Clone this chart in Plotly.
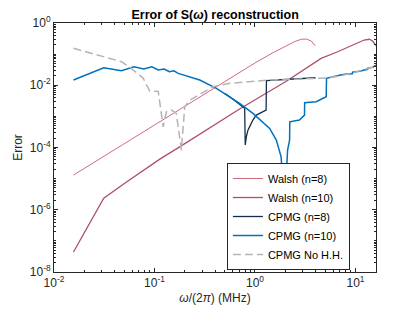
import plotly.graph_objects as go

# ---- data (frequency in MHz, error) ----
walsh8_f = [0.015625, 0.05, 0.1, 0.2, 0.5, 1.0, 1.5, 1.97, 2.47, 2.88, 3.23, 3.63, 3.97]
walsh8_e = [1.3e-5, 1.33e-4, 5.3e-4, 2.1e-3, 1.3e-2, 0.052, 0.11, 0.173, 0.25, 0.30, 0.306, 0.264, 0.186]

walsh10_f = [0.015625, 0.03125, 0.0531, 0.113, 0.178, 0.703, 2.05, 4.55, 6.65, 9.03, 12.2, 13.7, 14.8, 16.0]
walsh10_e = [4.4e-8, 2.36e-6, 7.9e-6, 4.24e-5, 1.05e-4, 1.72e-3, 0.0134, 0.073, 0.119, 0.186, 0.284, 0.30, 0.264, 0.186]

cpmg8_f = [0.499, 0.56, 0.789, 0.80, 0.82, 0.851, 0.883, 0.953, 1.03, 1.155, 1.29, 1.30, 2.0, 3.0, 4.0]
cpmg8_e = [5.5e-3, 4.27e-3, 1.81e-3, 1.2e-4, 2.2e-4, 3.6e-4, 4.6e-4, 7.6e-4, 1.1e-3, 1.37e-3, 1.6e-3, 0.014, 0.0152, 0.0165, 0.0174]

cpmg10_f = [0.015625, 0.03125, 0.0469, 0.0625, 0.078, 0.094, 0.109, 0.125, 0.1406, 0.156, 0.172,
            0.282, 0.413, 0.56, 0.703, 0.953, 1.40, 1.63, 1.82, 1.97, 2.05, 2.11, 2.21, 2.22,
            2.77, 3.11, 3.12, 4.06, 5.11, 5.15, 6.92, 8.07, 9.3, 9.35, 10.9, 13.2, 13.25, 14.8, 16.0]
cpmg10_e = [0.0147, 0.0366, 0.0292, 0.0394, 0.0332, 0.0394, 0.0308, 0.0332, 0.0272, 0.029, 0.0241,
            0.0147, 0.0079, 0.00427, 0.00262, 0.00125, 4.1e-4, 1.73e-4, 5.0e-5, 1.0e-6, 2.4e-5, 8.2e-5, 1.73e-4, 6.7e-4,
            7.6e-4, 1.1e-3, 2.74e-3, 2.95e-3, 4.27e-3, 0.0167, 0.0208, 0.0229, 0.0235, 0.0262, 0.028, 0.0325, 0.0357, 0.0375, 0.0447]

nohh_f = [0.015625, 0.047, 0.0582, 0.077, 0.0897, 0.109, 0.122, 0.1315, 0.1476, 0.165, 0.185, 0.2,
          0.224, 0.293, 0.382, 0.56, 1.40, 5.11, 6.92, 9.3, 12.5, 15.9]
nohh_e = [0.154, 0.057, 0.0357, 0.017, 0.0065, 0.0063, 4.6e-4, 1.4e-3, 1.6e-3, 1.25e-3, 8.2e-5, 2.04e-3,
          3.3e-3, 5.5e-3, 8.95e-3, 0.0115, 0.0147, 0.017, 0.0198, 0.0247, 0.032, 0.0414]

names = ["Walsh (n=8)", "Walsh (n=10)", "CPMG (n=8)", "CPMG (n=10)", "CPMG No H.H."]

x_ticks = [0.01, 0.1, 1, 10]
x_labels = ["10<sup>-2</sup>", "10<sup>-1</sup>", "10<sup>0</sup>", "10<sup>1</sup>"]
y_ticks = [1e-8, 1e-6, 1e-4, 1e-2, 1]
y_labels = ["10<sup>-8</sup>", "10<sup>-6</sup>", "10<sup>-4</sup>", "10<sup>-2</sup>", "10<sup>0</sup>"]

x_minor = [m * 10 ** d for d in range(-2, 2) for m in range(2, 10) if m * 10 ** d <= 16]
y_minor = [m * 10 ** d for d in range(-8, 0) for m in range(1, 10)]

fig = go.Figure()
fig.add_trace(go.Scatter(x=walsh8_f, y=walsh8_e, name=names[0], mode="lines",
                         line=dict(color="#cf6a83", width=1)))
fig.add_trace(go.Scatter(x=walsh10_f, y=walsh10_e, name=names[1], mode="lines",
                         line=dict(color="#b04e6b", width=1.3)))
fig.add_trace(go.Scatter(x=cpmg8_f, y=cpmg8_e, name=names[2], mode="lines",
                         line=dict(color="#132d48", width=1.3)))
fig.add_trace(go.Scatter(x=cpmg10_f, y=cpmg10_e, name=names[3], mode="lines",
                         line=dict(color="#0072BD", width=1.5)))
fig.add_trace(go.Scatter(x=nohh_f, y=nohh_e, name=names[4], mode="lines",
                         line=dict(color="#b4b4b4", width=1.5, dash="8px,4px")))

axis_common = dict(type="log", showgrid=False, zeroline=False, showline=True,
                   linecolor="#262626", linewidth=1, mirror="allticks",
                   ticks="inside", ticklen=4, tickcolor="#262626", automargin=False,
                   tickfont=dict(family="Liberation Sans, Arial", size=12, color="#262626"))

fig.update_layout(
    width=407, height=304,
    margin=dict(l=46, r=39, t=15, b=40),
    paper_bgcolor="white", plot_bgcolor="white",
    font=dict(family="Liberation Sans, Arial", size=11, color="#262626"),
    title=dict(text="<b>Error of S(<i>ω</i>) reconstruction</b>", x=0.509, xanchor="center",
               y=0.977, yanchor="middle", font=dict(size=12.5, color="black")),
    xaxis=dict(range=[-2, 1.2041], tickmode="array", tickvals=x_ticks, ticktext=x_labels,
               minor=dict(tickmode="array", tickvals=x_minor, ticks="inside", ticklen=2,
                          tickcolor="#262626"),
               title=dict(text="<i>ω</i>/(2<i>π</i>) (MHz)", standoff=4,
                          font=dict(size=12)), **axis_common),
    yaxis=dict(range=[-8, 0], tickmode="array", tickvals=y_ticks, ticktext=y_labels,
               minor=dict(tickmode="array", tickvals=y_minor, ticks="inside", ticklen=2,
                          tickcolor="#262626"),
               title=dict(text="Error", standoff=4, font=dict(size=12)), **axis_common),
    legend=dict(x=0.919, xanchor="right", y=0.008, yanchor="bottom",
                bgcolor="white", bordercolor="#262626", borderwidth=1,
                font=dict(size=11, color="black"), tracegroupgap=0,
                itemwidth=30),
    showlegend=True,
)

fig.write_html("out.html")
